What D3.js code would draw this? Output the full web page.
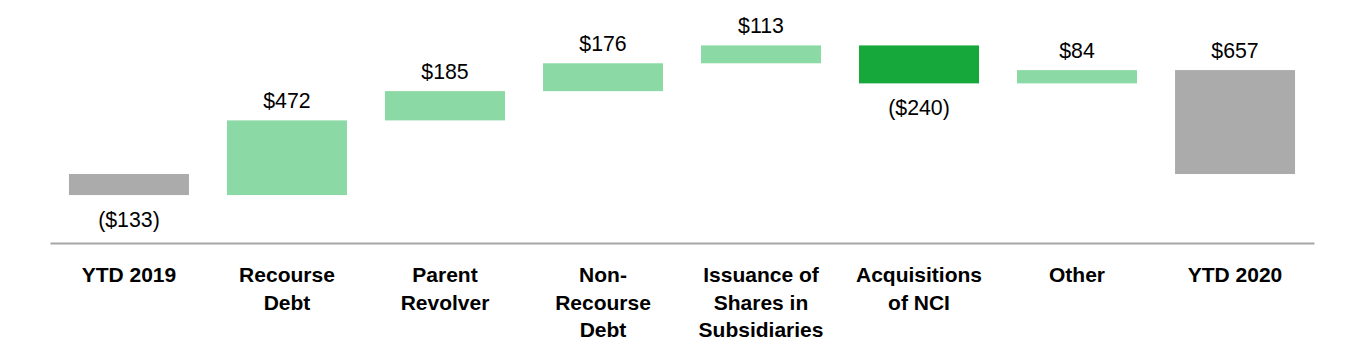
<!DOCTYPE html>
<html>
<head>
<meta charset="utf-8">
<script src="https://cdn.jsdelivr.net/npm/d3@7"></script>
<style>
  html, body { margin: 0; padding: 0; background: #fff; }
  svg { display: block; font-family: "Liberation Sans", Arial, sans-serif; }
</style>
</head>
<body>
<svg id="chart" width="1364" height="360"></svg>
<script>
const categories = ["YTD 2019", "Recourse\nDebt", "Parent\nRevolver", "Non-\nRecourse\nDebt", "Issuance of\nShares in\nSubsidiaries", "Acquisitions\nof NCI", "Other", "YTD 2020"];
const values = [-133, 472, 185, 176, 113, -240, 84, 657];
const kinds = ["total", "delta", "delta", "delta", "delta", "delta", "delta", "total"];

const colors = { total: "#ababab", up: "#8bd9a4", down: "#17a83b" };

const svg = d3.select("#chart");

const x = d3.scaleBand().domain(categories).range([50, 1314]).paddingInner(0.2405).paddingOuter(0.12);
const y = d3.scaleLinear().domain([-436, 1100]).range([243, 0]);

let running = 0;
const bars = categories.map((c, i) => {
  let y0, y1;
  if (kinds[i] === "total") {
    y0 = 0; y1 = values[i];
    running = values[i];
  } else {
    y0 = running; y1 = running + values[i];
    running = y1;
  }
  return { cat: c, v: values[i], kind: kinds[i], lo: Math.min(y0, y1), hi: Math.max(y0, y1) };
});

svg.append("g").selectAll("rect").data(bars).join("rect")
  .attr("x", d => x(d.cat))
  .attr("width", x.bandwidth())
  .attr("y", d => y(d.hi))
  .attr("height", d => y(d.lo) - y(d.hi))
  .attr("fill", d => d.kind === "total" ? colors.total : (d.v >= 0 ? colors.up : colors.down));

const fmt = v => v < 0 ? "($" + Math.abs(v) + ")" : "$" + v;

svg.append("g").selectAll("text").data(bars).join("text")
  .attr("x", d => x(d.cat) + x.bandwidth() / 2)
  .attr("y", d => d.v >= 0 ? y(d.hi) - 12 : y(d.lo) + 32)
  .attr("text-anchor", "middle")
  .attr("font-size", 21.3)
  .attr("fill", "#000")
  .text(d => fmt(d.v));

const axis = d3.axisBottom(x).tickSize(0).tickFormat("");
const gAxis = svg.append("g").attr("transform", `translate(0,${y(-436)})`).call(axis);
gAxis.select(".domain").attr("stroke", "#a6a6a6").attr("stroke-width", 2);

const labels = svg.append("g").selectAll("text").data(categories).join("text")
  .attr("x", d => x(d) + x.bandwidth() / 2)
  .attr("y", 282)
  .attr("text-anchor", "middle")
  .attr("font-size", 21)
  .attr("font-weight", "bold")
  .attr("fill", "#000");
labels.each(function(d) {
  const t = d3.select(this);
  d.split("\n").forEach((line, i) => {
    t.append("tspan").attr("x", x(d) + x.bandwidth() / 2).attr("dy", i === 0 ? 0 : 27.5).text(line);
  });
});
</script>
</body>
</html>
